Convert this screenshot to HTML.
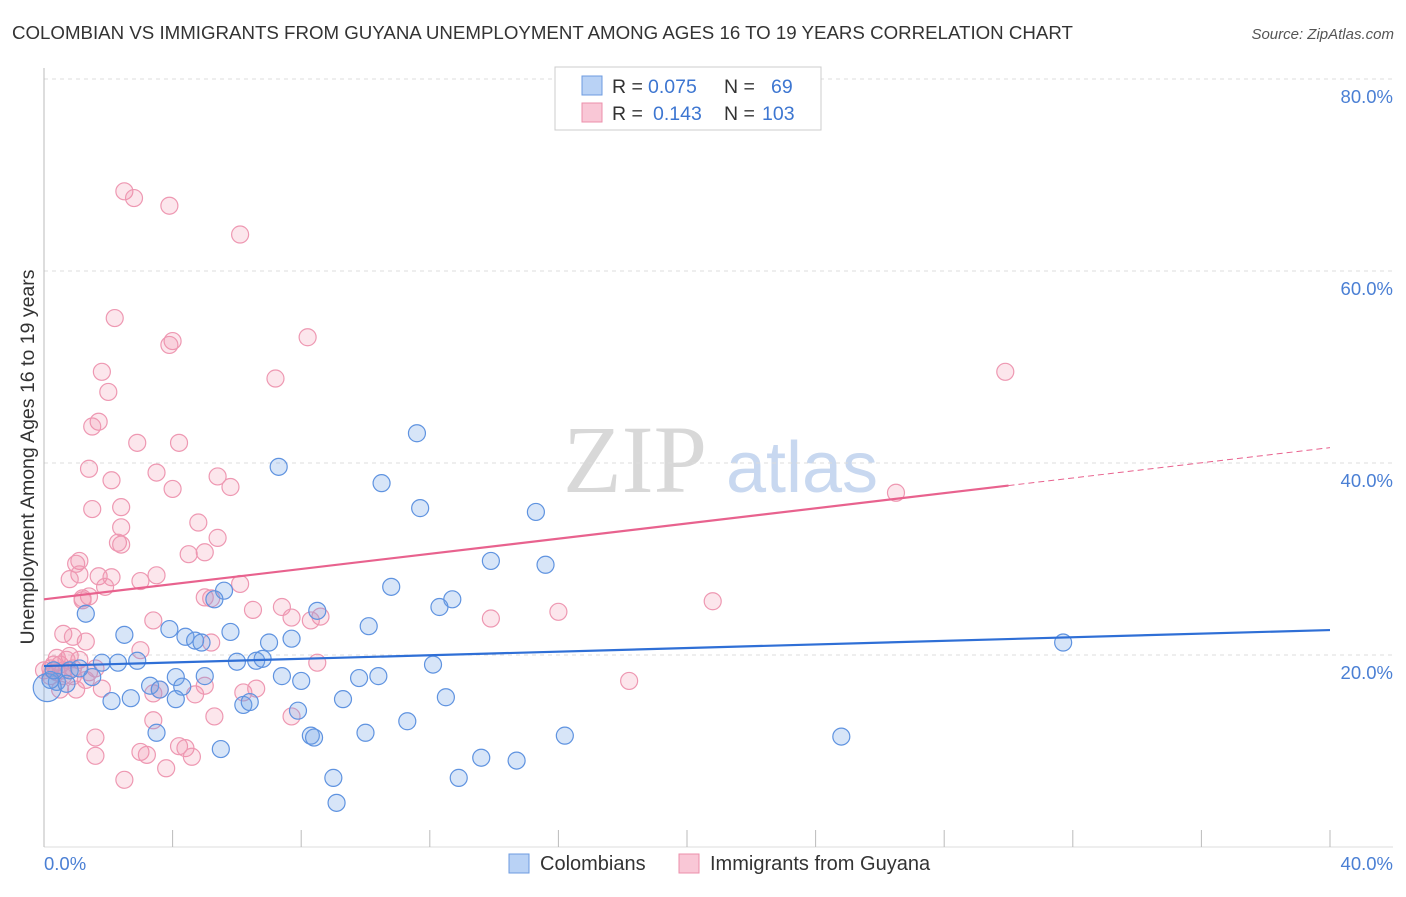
<!DOCTYPE html>
<html><head><meta charset="utf-8"><style>
body{margin:0;background:#fff;font-family:"Liberation Sans",sans-serif;}
</style></head><body>
<svg id="chart" width="1406" height="892" xmlns="http://www.w3.org/2000/svg" font-family="Liberation Sans, sans-serif">
<text x="12" y="39" font-size="18.7" fill="#333">COLOMBIAN VS IMMIGRANTS FROM GUYANA UNEMPLOYMENT AMONG AGES 16 TO 19 YEARS CORRELATION CHART</text>
<text x="1394" y="39" font-size="15" fill="#555" font-style="italic" text-anchor="end">Source: ZipAtlas.com</text>
<text x="635" y="492" font-size="96" fill="#d8d8d8" font-family="Liberation Serif, serif" text-anchor="middle">ZIP</text>
<text x="802" y="492" font-size="72" fill="#c8d8f0" text-anchor="middle">atlas</text>
<g id="grid"></g>
<g id="axes"></g>
<g id="points"></g>
<g id="trends"></g>
<text transform="translate(34,457) rotate(-90)" font-size="19.5" fill="#333" text-anchor="middle">Unemployment Among Ages 16 to 19 years</text>
<g>
<rect x="555" y="67" width="266" height="63" fill="#fff" stroke="#ccc"/>
<rect x="582" y="76" width="20" height="19" fill="#b9d2f5" stroke="#6d9be0"/>
<rect x="582" y="103" width="20" height="19" fill="#f9c7d6" stroke="#ec8fab"/>
<text x="612" y="93" font-size="19.5" fill="#333">R =</text>
<text x="648" y="93" font-size="19.5" fill="#3d76d1">0.075</text>
<text x="724" y="93" font-size="19.5" fill="#333">N =</text>
<text x="771" y="93" font-size="19.5" fill="#3d76d1">69</text>
<text x="612" y="120" font-size="19.5" fill="#333">R =</text>
<text x="653" y="120" font-size="19.5" fill="#3d76d1">0.143</text>
<text x="724" y="120" font-size="19.5" fill="#333">N =</text>
<text x="762" y="120" font-size="19.5" fill="#3d76d1">103</text>
</g>
<g>
<rect x="509" y="854" width="20" height="19" fill="#b9d2f5" stroke="#6d9be0"/>
<text x="540" y="870" font-size="20" fill="#333">Colombians</text>
<rect x="679" y="854" width="20" height="19" fill="#f9c7d6" stroke="#ec8fab"/>
<text x="710" y="870" font-size="20" fill="#333">Immigrants from Guyana</text>
</g>
</svg>
<script>
const yTicks=[20,40,60,80];
const xTickLabels=["0.0%","40.0%"];
const blueX=[7.3,11.6,10.5,11.7,15.3,13.9,15.6,10.8,5.6,5.3,8.5,12.7,12.3,1.3,3.9,2.5,4.4,4.7,4.9,5.8,10.1,7.0,7.7,31.7,1.8,2.3,2.9,6.0,6.6,6.8,12.1,4.1,5.0,7.4,8.0,9.8,10.4,1.5,0.4,0.7,3.3,4.3,2.1,2.7,4.1,6.2,6.4,9.3,12.5,7.9,11.3,3.5,8.3,8.4,10.0,16.2,24.8,5.5,13.6,14.7,9.0,12.9,9.1,0.1,0.2,0.3,0.8,1.1,3.6];
const blueY=[39.6,43.1,37.9,35.3,34.9,29.8,29.4,27.1,26.7,25.8,24.6,25.8,25.0,24.3,22.7,22.1,21.9,21.5,21.3,22.4,23.0,21.3,21.7,21.3,19.2,19.2,19.4,19.3,19.4,19.6,19.0,17.7,17.8,17.8,17.3,17.6,17.8,17.7,17.2,17.0,16.8,16.7,15.2,15.5,15.4,14.8,15.1,15.4,15.6,14.2,13.1,11.9,11.6,11.4,11.9,11.6,11.5,10.2,9.3,9.0,7.2,7.2,4.6,16.6,17.4,18.4,18.4,18.6,16.4];
const pinkX=[2.5,2.8,3.9,6.1,2.2,4.0,3.9,8.2,1.8,29.9,2.0,7.2,1.7,1.5,2.9,4.2,1.4,3.5,5.4,2.1,4.0,5.8,1.5,2.4,2.4,4.8,2.3,2.4,5.4,4.5,5.0,1.1,1.0,1.1,0.8,1.7,2.1,3.0,3.5,6.1,26.5,1.9,1.2,1.4,1.2,5.0,5.2,7.4,16.0,7.7,8.6,3.4,6.5,20.8,13.9,0.6,0.9,1.3,3.0,8.3,5.2,8.5,0.8,1.1,0.4,0.5,0.2,0.6,1.4,1.8,1.0,3.4,3.6,4.7,6.2,6.6,18.2,5.3,7.7,3.4,1.6,3.0,3.2,4.2,4.4,4.6,1.6,3.8,2.5,0.3,0.4,0.7,0.9,1.6,5.0,0.0,0.2,0.6,0.9,1.3,0.5];
const pinkY=[68.3,67.6,66.8,63.8,55.1,52.7,52.3,53.1,49.5,49.5,47.4,48.8,44.3,43.8,42.1,42.1,39.4,39.0,38.6,38.2,37.3,37.5,35.2,35.4,33.3,33.8,31.7,31.5,32.2,30.5,30.7,29.8,29.5,28.4,27.9,28.2,28.1,27.7,28.3,27.4,36.9,27.1,25.9,26.1,25.7,26.0,25.9,25.0,24.5,23.9,24.0,23.6,24.7,25.6,23.8,22.2,21.9,21.4,20.5,23.6,21.3,19.2,19.9,19.5,19.7,19.0,18.6,18.4,18.2,16.5,16.4,16.0,16.4,15.9,16.1,16.5,17.3,13.6,13.6,13.2,11.4,9.9,9.6,10.5,10.3,9.4,9.5,8.2,7.0,19.0,18.2,19.5,18.6,18.6,16.8,18.4,17.8,17.8,17.8,17.4,16.4];
const blueTrend=[18.85,22.6];
const pinkTrend=[25.8,41.6];
const pinkSolidEnd=30.0;

const NS="http://www.w3.org/2000/svg";
const X0=44,X1=1330,Y0=847,PXY=9.6;
function sx(v){return X0+(v/40)*(X1-X0);}
function sy(v){return Y0-v*PXY;}
function mk(tag,attrs,parent){const e=document.createElementNS(NS,tag);for(const k in attrs)e.setAttribute(k,attrs[k]);parent.appendChild(e);return e;}
const grid=document.getElementById('grid'),axes=document.getElementById('axes'),pts=document.getElementById('points'),tr=document.getElementById('trends');
yTicks.forEach(t=>{
  const l=mk('line',{x1:X0,x2:1393,y1:sy(t),y2:sy(t),stroke:'#ddd','stroke-dasharray':'4,4'},grid);
  
  
  const tx=mk('text',{x:1393,y:sy(t)+24,'font-size':18.5,fill:'#4a7fd4','text-anchor':'end'},grid);
  tx.textContent=t.toFixed(1)+'%';
  
  
});
const ya=mk('line',{x1:X0,x2:X0,y1:68,y2:Y0,stroke:'#bbb'},axes);


const xa=mk('line',{x1:X0,x2:1393,y1:Y0,y2:Y0,stroke:'#ddd'},axes);


for(let i=0;i<=10;i++){
  const t=mk('line',{x1:sx(i*4),x2:sx(i*4),y1:830,y2:Y0,stroke:'#bbb'},axes);
  
  
}
xTickLabels.forEach((s,i)=>{
  const t=mk('text',{x:i==0?44:1393,y:870,'font-size':18.5,fill:'#4a7fd4','text-anchor':i==0?'start':'end'},axes);
  t.textContent=s;
  
  
});
pinkX.forEach((x,i)=>{
  const c=mk('circle',{cx:sx(x),cy:sy(pinkY[i]),r:8.5,fill:'rgba(242,140,170,0.22)',stroke:'#ee98b2','stroke-width':1.2},pts);
  
  
});
blueX.forEach((x,i)=>{
  const c=mk('circle',{cx:sx(x),cy:sy(blueY[i]),r:i==63?14:8.5,fill:'rgba(110,160,230,0.28)',stroke:'#5f93e0','stroke-width':1.2},pts);
  
  
});
const bl=mk('line',{x1:sx(0),y1:sy(blueTrend[0]),x2:sx(40),y2:sy(blueTrend[1]),stroke:'#2f6fd6','stroke-width':2.2},tr);


const pm=pinkTrend[0]+(pinkTrend[1]-pinkTrend[0])*pinkSolidEnd/40;
const pl=mk('line',{x1:sx(0),y1:sy(pinkTrend[0]),x2:sx(pinkSolidEnd),y2:sy(pm),stroke:'#e8628e','stroke-width':2.2},tr);


const pd=mk('line',{x1:sx(pinkSolidEnd),y1:sy(pm),x2:sx(40),y2:sy(pinkTrend[1]),stroke:'#e8628e','stroke-width':1,'stroke-dasharray':'6,4'},tr);


</script>
</body></html>
